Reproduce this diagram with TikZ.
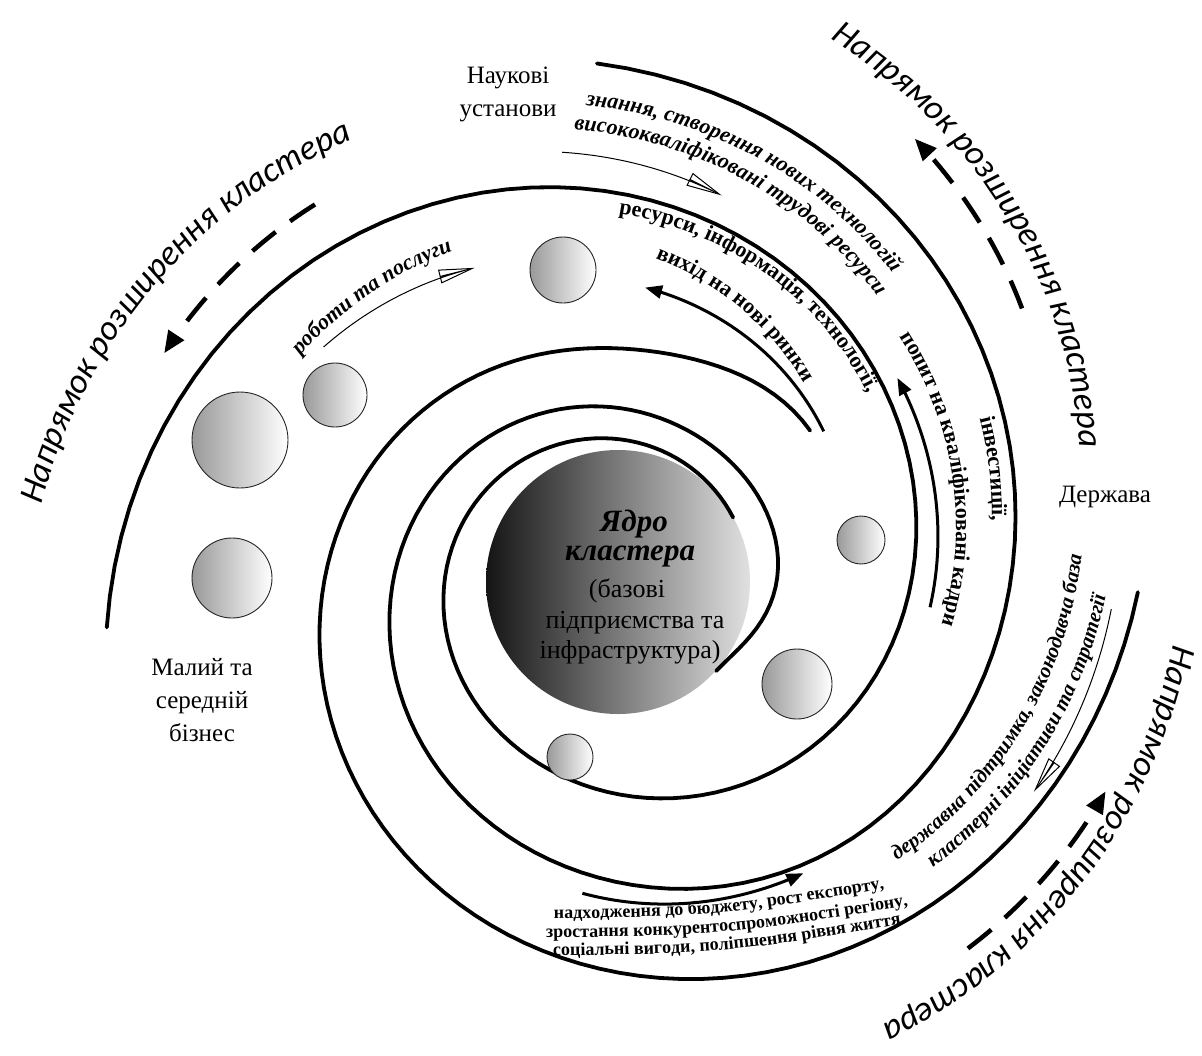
\documentclass[tikz,border=0pt]{standalone}
\usepackage{fontspec}
\setmainfont{Liberation Serif}
\newfontfamily\dirfont{Carlito}
\usetikzlibrary{arrows.meta,decorations.text}
\newcommand{\lblf}{\fontsize{25}{33}\selectfont}
\newcommand{\ttlf}{\dirfont\itshape\fontsize{35}{40}\selectfont}
\newcommand{\boldf}{\bfseries\fontsize{22}{26}\selectfont}
\newcommand{\itf}{\bfseries\itshape\fontsize{22}{26}\selectfont}
\newcommand{\itsf}{\bfseries\itshape\fontsize{21}{25}\selectfont}
\newcommand{\botf}{\bfseries\fontsize{18}{20}\selectfont}
\begin{document}
\begin{tikzpicture}[x=1pt,y=1pt,
  declare function={
    rA(\t)=134+0.001263*\t*\t-16*exp(-min(9,((\t-260)/70)*((\t-260)/70)));
    rB(\t)=151.7-0.028*(\t+41)+0.001572*(\t+41)*(\t+41)-21*exp(-min(9,((\t+41)/30)*((\t+41)/30)))+10*exp(-min(9,((\t-310)/40)*((\t-310)/40)))+12*exp(-min(9,((\t-10)/45)*((\t-10)/45)));
    rC(\t)=208.8+0.037*\t+0.002327*\t*\t+34*exp(-min(9,((\t-38)/35)*((\t-38)/35)));
  },
  ring/.style={line width=3.8pt, line cap=round, line join=round},
  boldarrow/.style={line width=3pt, -{Triangle[length=17pt,width=13pt]}},
  thinarrow/.style={line width=1pt, -{Triangle[open,length=36pt,width=14pt]}},
  dasharrow/.style={line width=4.5pt, dash pattern=on 30pt off 18pt, -{Triangle[length=22pt,width=18pt]}},
  ball/.style={circle, draw=black!85, line width=0.9pt, left color=black!40, right color=white, inner sep=0pt},
  core/.style={circle, inner sep=0pt, left color=black!92, right color=black!12},
  lbl/.style={font=\lblf, align=center, inner sep=0pt},
  corebig/.style={font=\bfseries\itshape\fontsize{31}{36}\selectfont, inner sep=0pt},
  coresm/.style={font=\fontsize{26}{30}\selectfont, inner sep=0pt}]
\useasboundingbox (0,0) rectangle (1202,-1055);
\fill[white] (0,0) rectangle (1202,-1055);

% core
\node[core, minimum size=264pt] (core) at (618,-582) {};

\begin{scope}[shift={(615,-583)}]
% spiral arms
\draw[ring] plot[domain=29:545, samples=150] (\x:{rA(\x)});
\draw[ring] plot[domain=-41:452, samples=150] (\x:{rB(\x)});
\draw[ring] plot[domain=38:359, samples=110] (\x:{rC(\x)});

% bold arrows
\draw[boldarrow] plot[domain=0:1,samples=40] ({36+48.2*\x}:{258+39*\x});
\draw[boldarrow] plot[domain=0:1,samples=40] ({-4.4+40.4*\x}:{316+33*\x});
\draw[boldarrow] plot[domain=0:1,samples=40] ({264+39*\x}:{312+34*\x});
% thin open arrows
\draw[thinarrow] plot[domain=0:1,samples=40] ({97-22.4*\x}:{434-32*\x});
\draw[thinarrow] plot[domain=0:1,samples=40] ({141-27*\x}:{375-30*\x});
\draw[thinarrow] plot[domain=0:1,samples=40] ({-3-23.5*\x}:{497-29*\x});
% dashed expansion arrows
\draw[dasharrow] plot[domain=0:1,samples=40] ({128.4+24.6*\x}:{483+23*\x});
\draw[dasharrow] plot[domain=0:1,samples=40] ({34+22*\x}:{491+45*\x});
\draw[dasharrow] plot[domain=0:1,samples=40] ({-46+23*\x}:{508+25*\x});

% titles
\path[decorate,decoration={text along path,text align=center,text={|\ttlf|Напрямок розширення кластера}}]
  plot[domain=0:1,samples=80] ({178-64*\x}:{586-79*\x});
\path[decorate,decoration={text along path,text align=center,text={|\ttlf|Напрямок розширення кластера}}]
  plot[domain=0:1,samples=80] ({75-67*\x}:{598-130*\x});
\path[decorate,decoration={text along path,text align=center,text={|\ttlf|Напрямок розширення кластера}}]
  plot[domain=0:1,samples=80] ({1-68*\x}:{568-59*\x});

% flow texts
\path[decorate,decoration={text along path,text align=center,text={|\boldf|ресурси, інформація, технології,}}]
  plot[domain=0:1,samples=80] ({100-76*\x}:{380.7-77.5*\x});
\path[decorate,decoration={text along path,text align=center,text={|\boldf|вихід на нові ринки}}]
  plot[domain=0:1,samples=80] ({90-52*\x}:{337.7-75.4*\x});
\path[decorate,decoration={text along path,text align=center,text={|\boldf|інвестиції,}}]
  plot[domain=0:1,samples=80] ({40-48*\x}:{418.8-57.6*\x});
\path[decorate,decoration={text along path,text align=center,text={|\boldf|попит на кваліфіковані кадри}}]
  plot[domain=0:1,samples=80] ({50-68*\x}:{385.9-67.3*\x});
\path[decorate,decoration={text along path,text align=center,text={|\itf|знання, створення нових технологій}}]
  plot[domain=0:1,samples=80] ({102-64*\x}:{490.3-88.3*\x});
\path[decorate,decoration={text along path,text align=center,text={|\itf|висококваліфіковані трудові ресурси}}]
  plot[domain=0:1,samples=80] ({103-65*\x}:{466.4-91*\x});
\path[decorate,decoration={text along path,text align=center,text={|\itf|роботи та послуги}}]
  plot[domain=0:1,samples=80] ({147-34*\x}:{389.8-21.8*\x});
\path[decorate,decoration={text along path,text align=center,text={|\itsf|державна підтримка, законодавча база}}]
  plot[domain=0:1,samples=80] ({-50+58*\x}:{387.5+87*\x});
\path[decorate,decoration={text along path,text align=center,text={|\itsf|кластерні ініціативи та стратегії}}]
  plot[domain=0:1,samples=80] ({-47+50*\x}:{418.3+80*\x});
\end{scope}

% bottom texts
\path[decorate,decoration={text along path,text align=center,text={|\botf|надходження до бюджету, рост експорту,}}]
  (532,-919) .. controls (718,-916) .. (906,-885);
\path[decorate,decoration={text along path,text align=center,text={|\botf|зростання конкурентоспроможності регіону,}}]
  (534,-938) .. controls (724,-935) .. (920,-904);
\path[decorate,decoration={text along path,text align=center,text={|\botf|соціальні вигоди, поліпшення рівня життя}}]
  (546,-956) .. controls (726,-953) .. (908,-923);

% small circles
\node[ball, minimum size=66pt] (b1) at (563,-270) {};
\node[ball, minimum size=64pt] (b2) at (335,-395) {};
\node[ball, minimum size=96pt] (b3) at (240,-440) {};
\node[ball, minimum size=80pt] (b4) at (232,-578) {};
\node[ball, minimum size=48pt] (b5) at (861,-540) {};
\node[ball, minimum size=70pt] (b6) at (797,-684) {};
\node[ball, minimum size=46pt] (b7) at (570,-757) {};

% core text
\node[corebig] (k1) at (634,-524) {Ядро};
\node[corebig] (k2) at (630,-556) {кластера};
\node[coresm] (k3) at (627,-591) {(базові};
\node[coresm] (k4) at (635,-623) {підприємства та};
\node[coresm] (k5) at (630,-652) {інфраструктура)};

% labels
\node[lbl] (nauk) at (508,-94) {Наукові\\установи};
\node[lbl] (derzh) at (1105,-497) {Держава};
\node[lbl] (biz) at (202,-700) {Малий та\\середній\\бізнес};
\end{tikzpicture}
\end{document}
